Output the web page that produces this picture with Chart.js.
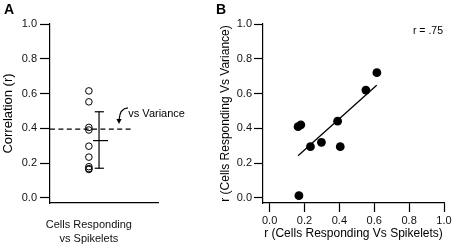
<!DOCTYPE html>
<html lang="en">
  <head>
    <meta charset="UTF-8" />
    <title>Cells responding correlations</title>
    <style>
      body {
        margin: 0;
        background: #fff;
        width: 454px;
        height: 244px;
        overflow: hidden;
        position: relative;
      }
      canvas {
        position: absolute;
        top: 0;
      }
      #chartA {
        left: 0;
      }
      #chartB {
        left: 200px;
      }
    </style>
  </head>
  <body>
    <canvas id="chartA" width="200" height="244"></canvas>
    <canvas id="chartB" width="254" height="244"></canvas>

    <script src="https://cdn.jsdelivr.net/npm/chart.js"></script>
    <script>
      // values
      const yTicks = [0, 0.2, 0.4, 0.6, 0.8, 1.0];
      const xTicksB = [0, 0.2, 0.4, 0.6, 0.8, 1.0];
      const categoryLabel = ["Cells Responding", "vs Spikelets"];
      // r (cells responding vs spikelets), one per animal
      const spikeletR = [0.615, 0.552, 0.39, 0.405, 0.297, 0.234, 0.179, 0.163, 0.168];
      // r (cells responding vs variance), same order
      const varianceR = [0.72, 0.62, 0.441, 0.294, 0.319, 0.294, 0.42, 0.409, 0.012];
      // lower, mean, upper of the error bar in panel A
      const errorBar = [0.17, 0.329, 0.495];
      const varianceMean = 0.395;
      const fitX = [0.163, 0.614];
      const fitY = [0.242, 0.647];
      const rText = "r = .75";

      const FONT = "'Liberation Sans', Arial, Helvetica, sans-serif";
      Chart.defaults.font.family = FONT;
      Chart.defaults.color = "#111";

      const fmt = (v) => Number(v).toFixed(1);

      // text/arrow annotations drawn through the scales
      function panelLetter(letter, x) {
        return {
          id: "letter" + letter,
          afterDraw(chart) {
            const ctx = chart.ctx;
            ctx.save();
            ctx.font = "bold 14px " + FONT;
            ctx.fillStyle = "#000";
            ctx.textBaseline = "middle";
            ctx.fillText(letter, x, 10);
            ctx.restore();
          },
        };
      }

      const varianceNote = {
        id: "varianceNote",
        afterDatasetsDraw(chart) {
          const { ctx, scales } = chart;
          const px = (v) => scales.x.getPixelForValue(v);
          const py = (v) => scales.y.getPixelForValue(v);
          ctx.save();
          ctx.font = "11px " + FONT;
          ctx.fillStyle = "#000";
          ctx.textBaseline = "middle";
          ctx.fillText("vs Variance", px(0.725), py(0.485));
          // curved arrow pointing at the dashed line
          const sx = px(0.722), sy = py(0.517);
          const tx = px(0.639), ty = py(0.425);
          ctx.strokeStyle = "#000";
          ctx.lineWidth = 1.2;
          ctx.beginPath();
          ctx.moveTo(sx, sy);
          ctx.quadraticCurveTo(px(0.648), py(0.515), tx, ty - 4);
          ctx.stroke();
          ctx.beginPath();
          ctx.moveTo(tx, ty);
          ctx.lineTo(tx - 2.6, ty - 5);
          ctx.lineTo(tx + 2.6, ty - 5);
          ctx.closePath();
          ctx.fill();
          ctx.restore();
        },
      };

      const rNote = {
        id: "rNote",
        afterDraw(chart) {
          const { ctx, scales } = chart;
          ctx.save();
          ctx.font = "10.5px " + FONT;
          ctx.fillStyle = "#000";
          ctx.textAlign = "right";
          ctx.textBaseline = "middle";
          ctx.fillText(rText, scales.x.getPixelForValue(1.0) - 1, scales.y.getPixelForValue(0.96));
          ctx.restore();
        },
      };

      const lineDs = (pts, extra) =>
        Object.assign(
          {
            data: pts,
            showLine: true,
            borderColor: "#000",
            borderWidth: 1.2,
            pointRadius: 0,
            fill: false,
          },
          extra || {}
        );

      const yAxis = (width, title, titleFont, titlePad, tickLen, tickPad) => ({
        type: "linear",
        min: -0.03,
        max: 1.0,
        afterBuildTicks: (axis) => {
          axis.ticks = yTicks.map((v) => ({ value: v }));
        },
        afterFit: (axis) => {
          axis.width = width;
        },
        ticks: { callback: fmt, font: { size: 11 }, padding: tickPad, color: "#111" },
        grid: { drawOnChartArea: false, tickLength: tickLen, color: "#000", tickWidth: 1.2 },
        border: { display: true, color: "#000", width: 1.2 },
        title: {
          display: true,
          text: title,
          color: "#000",
          font: { size: titleFont },
          padding: { top: titlePad, bottom: 0 },
        },
      });

      // Panel A: spread of r values with mean +/- SD
      const catX = 0.36;
      const barX = 0.454;
      new Chart(document.getElementById("chartA"), {
        type: "scatter",
        data: {
          datasets: [
            {
              data: spikeletR.map((v) => ({ x: catX, y: v })),
              pointRadius: 3.3,
              pointBorderWidth: 1,
              borderColor: "#000",
              backgroundColor: "rgba(0,0,0,0)",
              showLine: false,
            },
            lineDs([
              { x: barX, y: errorBar[0] },
              { x: barX, y: errorBar[2] },
            ]),
            lineDs([
              { x: barX - 0.04, y: errorBar[2] },
              { x: barX + 0.045, y: errorBar[2] },
            ]),
            lineDs([
              { x: barX - 0.04, y: errorBar[0] },
              { x: barX + 0.045, y: errorBar[0] },
            ]),
            lineDs([
              { x: barX - 0.056, y: errorBar[1] },
              { x: barX + 0.083, y: errorBar[1] },
            ]),
            lineDs(
              [
                { x: 0, y: varianceMean },
                { x: 0.75, y: varianceMean },
              ],
              { borderDash: [5, 3.4], borderWidth: 1.4 }
            ),
          ],
        },
        options: {
          responsive: false,
          animation: false,
          devicePixelRatio: 1,
          layout: { padding: { left: 0, right: 42, top: 24, bottom: 0 } },
          plugins: { legend: { display: false }, tooltip: { enabled: false } },
          scales: {
            x: {
              type: "linear",
              min: 0,
              max: 1,
              afterBuildTicks: (axis) => {
                axis.ticks = [{ value: catX }];
              },
              afterFit: (axis) => {
                axis.height = 41;
              },
              ticks: {
                callback: () => categoryLabel,
                font: { size: 11, lineHeight: "14px" },
                padding: 15,
                maxRotation: 0,
                minRotation: 0,
                autoSkip: false,
                color: "#111",
              },
              grid: { display: false, drawTicks: false },
              border: { display: true, color: "#000", width: 1.2 },
            },
            y: yAxis(50, "Correlation (r)", 13, 1, 10, 3),
          },
        },
        plugins: [varianceNote, panelLetter("A", 4)],
      });

      // Panel B: variance r against spikelet r with fit line
      new Chart(document.getElementById("chartB"), {
        type: "scatter",
        data: {
          datasets: [
            lineDs(
              fitX.map((x, i) => ({ x: x, y: fitY[i] })),
              { borderWidth: 1.3 }
            ),
            {
              data: spikeletR.map((x, i) => ({ x: x, y: varianceR[i] })),
              pointRadius: 4.4,
              pointBorderWidth: 0,
              backgroundColor: "#000",
              borderColor: "#000",
              showLine: false,
            },
          ],
        },
        options: {
          responsive: false,
          animation: false,
          devicePixelRatio: 1,
          layout: { padding: { left: 0, right: 10, top: 24, bottom: 0 } },
          plugins: { legend: { display: false }, tooltip: { enabled: false } },
          scales: {
            x: {
              type: "linear",
              min: -0.038,
              max: 1.0,
              afterBuildTicks: (axis) => {
                axis.ticks = xTicksB.map((v) => ({ value: v }));
              },
              afterFit: (axis) => {
                axis.height = 41;
              },
              ticks: { callback: fmt, font: { size: 11 }, padding: 2, maxRotation: 0, color: "#111" },
              grid: { drawOnChartArea: false, tickLength: 9, color: "#000", tickWidth: 1.2 },
              border: { display: true, color: "#000", width: 1.2 },
              title: {
                display: true,
                text: "r (Cells Responding Vs Spikelets)",
                color: "#000",
                font: { size: 12 },
                padding: { top: 0, bottom: 3 },
              },
            },
            y: yAxis(63, "r (Cells Responding Vs Variance)", 12, 18, 9, 2),
          },
        },
        plugins: [rNote, panelLetter("B", 16)],
      });
    </script>
  </body>
</html>
